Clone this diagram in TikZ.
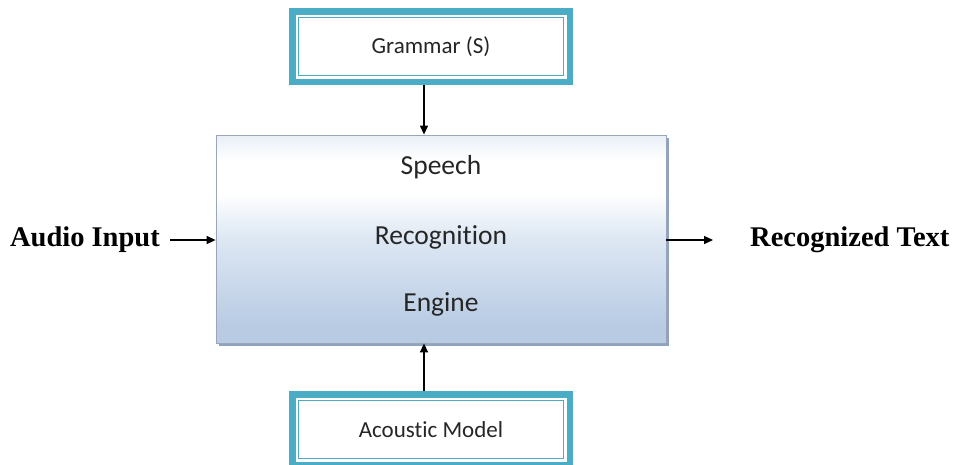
\documentclass[tikz,border=0pt]{standalone}
\usepackage{fontspec}
\setmainfont{Carlito}[Ligatures=NoCommon]
\newfontfamily\labelfont{Liberation Serif}
\usetikzlibrary{positioning, arrows.meta, shadows}

\definecolor{aqua}{HTML}{4BACC6}
\definecolor{enginetop}{HTML}{E9EFF8}
\definecolor{enginemid}{HTML}{DDE7F3}
\definecolor{enginebot}{HTML}{B8CBE3}
\definecolor{engineline}{HTML}{9AA6B8}
\definecolor{engineshade}{HTML}{8FA2BE}
% path spans 25bp..75bp of the shading
\pgfdeclareverticalshading{enginefill}{100bp}{color(0bp)=(enginebot); color(29bp)=(enginebot); color(50bp)=(enginemid); color(61bp)=(white); color(69bp)=(white); color(75bp)=(enginetop); color(100bp)=(enginetop)}

\begin{document}
\begin{tikzpicture}[x=1pt, y=-1pt,
    modelbox/.style={draw=aqua, line width=6.5pt, fill=white, minimum width=277.5pt, minimum height=70.5pt, inner sep=0pt, font=\fontsize{23}{28}\selectfont, text=black!85},
    innerline/.style={draw=aqua, line width=1.3pt},
    flow/.style={-{Triangle[length=9pt, width=8pt]}, line width=1.4pt},
    sidelabel/.style={inner sep=0pt, font=\labelfont\bfseries\fontsize{28.5}{34}\selectfont}]
    \useasboundingbox (0,0) rectangle (956,464);

    % Engine block
    \node[draw=engineline, line width=0.8pt, shading=enginefill, drop shadow={shadow xshift=3pt, shadow yshift=-3pt, fill=engineshade, opacity=1}, minimum width=450pt, minimum height=208pt, inner sep=0pt, text depth=12pt, align=center, font=\fontsize{27.5}{67}\selectfont, text=black!85] (engine) at (441,239) {Speech\\[3pt]Recognition\\Engine};

    % Grammar and acoustic model
    \node[modelbox] (grammar) at (431,46.5) {Grammar (S)};
    \node[modelbox] (acoustic) at (431,429.5) {Acoustic Model};
    \foreach \m in {grammar, acoustic}
        \draw[innerline] ([shift={(9.5pt,-9.5pt)}]\m.north west) rectangle ([shift={(-9.5pt,9.5pt)}]\m.south east);

    % Input and output
    \node[sidelabel, anchor=east] (audio) at (160,240) {Audio Input};
    \node[sidelabel, anchor=west] (result) at (750,240) {Recognized Text};

    % Relationships
    \draw[flow, shorten <=10pt] (audio.east) -- (audio.east -| engine.west);
    \draw[flow, shorten >=37pt] (engine.east |- result.west) -- (result.west);
    \draw[flow] ([xshift=-7pt]grammar.south) -- ([xshift=-7pt]grammar.south |- engine.north);
    \draw[flow] ([xshift=-7pt]acoustic.north) -- ([xshift=-7pt]acoustic.north |- engine.south);
\end{tikzpicture}
\end{document}
